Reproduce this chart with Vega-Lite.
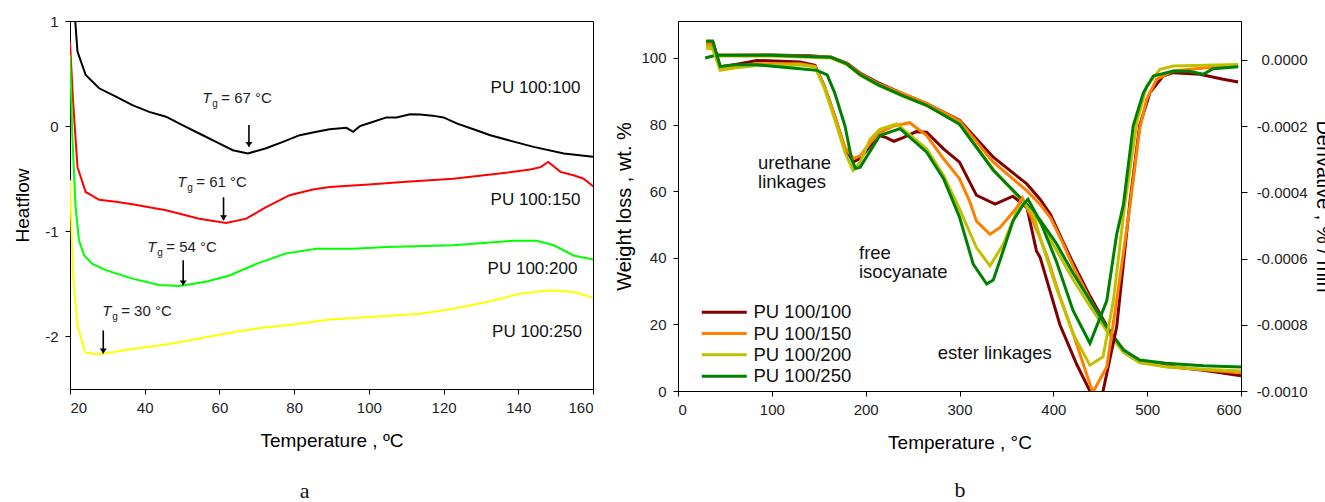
{
  "$schema": "https://vega.github.io/schema/vega-lite/v6.json",
  "padding": {"left": 13, "top": 13, "right": 0, "bottom": 0},
  "background": "white",
  "bounds": "flush",
  "spacing": 85,
  "config": {
    "view": {"stroke": "black", "strokeWidth": 1},
    "font": "Liberation Sans",
    "axis": {"grid": false, "domainColor": "black", "tickColor": "black", "tickSize": 5, "labelFont": "Liberation Sans", "labelFontSize": 15, "labelColor": "#222", "titleFont": "Liberation Sans", "titleFontSize": 19, "titleFontWeight": "normal", "titleColor": "#000"}
  },
  "resolve": {"scale": {"color": "independent"}, "legend": {"color": "independent"}},
  "datasets": {
    "dsc": [
      {"sample": "PU 100:100", "T": 21.3, "H": 1.05}, {"sample": "PU 100:100", "T": 22, "H": 0.71}, {"sample": "PU 100:100", "T": 24.2, "H": 0.486}, {"sample": "PU 100:100", "T": 27.8, "H": 0.36}, {"sample": "PU 100:100", "T": 32.3, "H": 0.28}, {"sample": "PU 100:100", "T": 36.7, "H": 0.2}, {"sample": "PU 100:100", "T": 41.2, "H": 0.136}, {"sample": "PU 100:100", "T": 45.7, "H": 0.09}, {"sample": "PU 100:100", "T": 50.1, "H": 0.01}, {"sample": "PU 100:100", "T": 54.6, "H": -0.07}, {"sample": "PU 100:100", "T": 59.1, "H": -0.15}, {"sample": "PU 100:100", "T": 63.6, "H": -0.229}, {"sample": "PU 100:100", "T": 67.6, "H": -0.26}, {"sample": "PU 100:100", "T": 72.5, "H": -0.21}, {"sample": "PU 100:100", "T": 77, "H": -0.15}, {"sample": "PU 100:100", "T": 81.5, "H": -0.086}, {"sample": "PU 100:100", "T": 86, "H": -0.054}, {"sample": "PU 100:100", "T": 89.5, "H": -0.03}, {"sample": "PU 100:100", "T": 94, "H": -0.016}, {"sample": "PU 100:100", "T": 95.8, "H": -0.054}, {"sample": "PU 100:100", "T": 97.6, "H": 0.0}, {"sample": "PU 100:100", "T": 101, "H": 0.04}, {"sample": "PU 100:100", "T": 104.7, "H": 0.083}, {"sample": "PU 100:100", "T": 107.4, "H": 0.083}, {"sample": "PU 100:100", "T": 111, "H": 0.114}, {"sample": "PU 100:100", "T": 113.7, "H": 0.11}, {"sample": "PU 100:100", "T": 117, "H": 0.1}, {"sample": "PU 100:100", "T": 120, "H": 0.083}, {"sample": "PU 100:100", "T": 123.5, "H": 0.026}, {"sample": "PU 100:100", "T": 128, "H": -0.03}, {"sample": "PU 100:100", "T": 132.5, "H": -0.086}, {"sample": "PU 100:100", "T": 138, "H": -0.14}, {"sample": "PU 100:100", "T": 144.1, "H": -0.197}, {"sample": "PU 100:100", "T": 152.2, "H": -0.26}, {"sample": "PU 100:100", "T": 160, "H": -0.29},
      {"sample": "PU 100:150", "T": 20, "H": 0.8}, {"sample": "PU 100:150", "T": 20.8, "H": 0.248}, {"sample": "PU 100:150", "T": 22, "H": -0.388}, {"sample": "PU 100:150", "T": 24.2, "H": -0.626}, {"sample": "PU 100:150", "T": 27.8, "H": -0.7}, {"sample": "PU 100:150", "T": 32.3, "H": -0.72}, {"sample": "PU 100:150", "T": 36.7, "H": -0.743}, {"sample": "PU 100:150", "T": 45.7, "H": -0.8}, {"sample": "PU 100:150", "T": 54.6, "H": -0.88}, {"sample": "PU 100:150", "T": 61.8, "H": -0.92}, {"sample": "PU 100:150", "T": 67.2, "H": -0.88}, {"sample": "PU 100:150", "T": 72.5, "H": -0.77}, {"sample": "PU 100:150", "T": 78.8, "H": -0.657}, {"sample": "PU 100:150", "T": 85, "H": -0.603}, {"sample": "PU 100:150", "T": 89.5, "H": -0.578}, {"sample": "PU 100:150", "T": 100, "H": -0.555}, {"sample": "PU 100:150", "T": 110, "H": -0.53}, {"sample": "PU 100:150", "T": 122.6, "H": -0.5}, {"sample": "PU 100:150", "T": 135, "H": -0.45}, {"sample": "PU 100:150", "T": 143.2, "H": -0.413}, {"sample": "PU 100:150", "T": 146, "H": -0.39}, {"sample": "PU 100:150", "T": 148, "H": -0.34}, {"sample": "PU 100:150", "T": 151.3, "H": -0.435}, {"sample": "PU 100:150", "T": 155, "H": -0.47}, {"sample": "PU 100:150", "T": 157.5, "H": -0.5}, {"sample": "PU 100:150", "T": 160.2, "H": -0.578},
      {"sample": "PU 100:200", "T": 20, "H": 0.676}, {"sample": "PU 100:200", "T": 20.6, "H": -0.07}, {"sample": "PU 100:200", "T": 21.5, "H": -0.77}, {"sample": "PU 100:200", "T": 22.4, "H": -1.086}, {"sample": "PU 100:200", "T": 23.8, "H": -1.23}, {"sample": "PU 100:200", "T": 26, "H": -1.31}, {"sample": "PU 100:200", "T": 29.6, "H": -1.37}, {"sample": "PU 100:200", "T": 36.7, "H": -1.45}, {"sample": "PU 100:200", "T": 43.9, "H": -1.51}, {"sample": "PU 100:200", "T": 49.3, "H": -1.52}, {"sample": "PU 100:200", "T": 56.4, "H": -1.48}, {"sample": "PU 100:200", "T": 62.7, "H": -1.42}, {"sample": "PU 100:200", "T": 69.9, "H": -1.31}, {"sample": "PU 100:200", "T": 77.9, "H": -1.21}, {"sample": "PU 100:200", "T": 86, "H": -1.166}, {"sample": "PU 100:200", "T": 95.8, "H": -1.166}, {"sample": "PU 100:200", "T": 104.7, "H": -1.15}, {"sample": "PU 100:200", "T": 122.6, "H": -1.133}, {"sample": "PU 100:200", "T": 138.7, "H": -1.09}, {"sample": "PU 100:200", "T": 145, "H": -1.09}, {"sample": "PU 100:200", "T": 149.5, "H": -1.133}, {"sample": "PU 100:200", "T": 154.8, "H": -1.23}, {"sample": "PU 100:200", "T": 160.2, "H": -1.27},
      {"sample": "PU 100:250", "T": 20, "H": -0.514}, {"sample": "PU 100:250", "T": 20.8, "H": -1.4}, {"sample": "PU 100:250", "T": 22, "H": -1.895}, {"sample": "PU 100:250", "T": 24, "H": -2.15}, {"sample": "PU 100:250", "T": 26.9, "H": -2.17}, {"sample": "PU 100:250", "T": 29.6, "H": -2.16}, {"sample": "PU 100:250", "T": 36.7, "H": -2.12}, {"sample": "PU 100:250", "T": 45.7, "H": -2.076}, {"sample": "PU 100:250", "T": 54.6, "H": -2.02}, {"sample": "PU 100:250", "T": 63.6, "H": -1.96}, {"sample": "PU 100:250", "T": 70.7, "H": -1.92}, {"sample": "PU 100:250", "T": 79.7, "H": -1.886}, {"sample": "PU 100:250", "T": 89.5, "H": -1.84}, {"sample": "PU 100:250", "T": 100.3, "H": -1.816}, {"sample": "PU 100:250", "T": 113.7, "H": -1.785}, {"sample": "PU 100:250", "T": 122.6, "H": -1.737}, {"sample": "PU 100:250", "T": 131.6, "H": -1.673}, {"sample": "PU 100:250", "T": 140.5, "H": -1.593}, {"sample": "PU 100:250", "T": 148.6, "H": -1.56}, {"sample": "PU 100:250", "T": 154.8, "H": -1.578}, {"sample": "PU 100:250", "T": 160.2, "H": -1.635}
    ],
    "dscLabels": [
      {"label": "PU 100:100", "T": 144.6, "H": 0.359},
      {"label": "PU 100:150", "T": 144.6, "H": -0.698},
      {"label": "PU 100:200", "T": 143.8, "H": -1.356},
      {"label": "PU 100:250", "T": 145, "H": -1.959}
    ],
    "tg": [
      {"T": 55.4, "H": 0.267, "rest": "=  67 °C"},
      {"T": 48.7, "H": -0.533, "rest": "=  61 °C"},
      {"T": 40.7, "H": -1.152, "rest": "=  54 °C"},
      {"T": 28.6, "H": -1.762, "rest": "=  30 °C"}
    ],
    "arrows": [
      {"T": 67.9, "H": 0.01, "H2": -0.197},
      {"T": 61.1, "H": -0.676, "H2": -0.895},
      {"T": 50.3, "H": -1.276, "H2": -1.514},
      {"T": 28.9, "H": -1.943, "H2": -2.162}
    ],
    "tga": [
      {"sample": "PU 100/100", "T": 30, "w": 104.5}, {"sample": "PU 100/100", "T": 36, "w": 104.3}, {"sample": "PU 100/100", "T": 42, "w": 100.8}, {"sample": "PU 100/100", "T": 60, "w": 100.8}, {"sample": "PU 100/100", "T": 100, "w": 100.9}, {"sample": "PU 100/100", "T": 140, "w": 100.7}, {"sample": "PU 100/100", "T": 163, "w": 100.2}, {"sample": "PU 100/100", "T": 180, "w": 98.5}, {"sample": "PU 100/100", "T": 194, "w": 95.5}, {"sample": "PU 100/100", "T": 213, "w": 92.6}, {"sample": "PU 100/100", "T": 240, "w": 89.2}, {"sample": "PU 100/100", "T": 265, "w": 86.3}, {"sample": "PU 100/100", "T": 300, "w": 81.3}, {"sample": "PU 100/100", "T": 336, "w": 70.2}, {"sample": "PU 100/100", "T": 372, "w": 62.1}, {"sample": "PU 100/100", "T": 386, "w": 57.5}, {"sample": "PU 100/100", "T": 397, "w": 53}, {"sample": "PU 100/100", "T": 410, "w": 45}, {"sample": "PU 100/100", "T": 421, "w": 38.5}, {"sample": "PU 100/100", "T": 439, "w": 28.5}, {"sample": "PU 100/100", "T": 457, "w": 19.5}, {"sample": "PU 100/100", "T": 470, "w": 13.5}, {"sample": "PU 100/100", "T": 480, "w": 11}, {"sample": "PU 100/100", "T": 492, "w": 9}, {"sample": "PU 100/100", "T": 520, "w": 7.5}, {"sample": "PU 100/100", "T": 560, "w": 6.2}, {"sample": "PU 100/100", "T": 600, "w": 4.6},
      {"sample": "PU 100/150", "T": 30, "w": 104}, {"sample": "PU 100/150", "T": 36, "w": 103.8}, {"sample": "PU 100/150", "T": 42, "w": 100.8}, {"sample": "PU 100/150", "T": 100, "w": 100.8}, {"sample": "PU 100/150", "T": 163, "w": 100.3}, {"sample": "PU 100/150", "T": 180, "w": 98.3}, {"sample": "PU 100/150", "T": 194, "w": 95.3}, {"sample": "PU 100/150", "T": 213, "w": 92.3}, {"sample": "PU 100/150", "T": 240, "w": 89.3}, {"sample": "PU 100/150", "T": 265, "w": 86.4}, {"sample": "PU 100/150", "T": 300, "w": 81.1}, {"sample": "PU 100/150", "T": 336, "w": 68.7}, {"sample": "PU 100/150", "T": 372, "w": 60.1}, {"sample": "PU 100/150", "T": 386, "w": 56}, {"sample": "PU 100/150", "T": 397, "w": 52}, {"sample": "PU 100/150", "T": 410, "w": 44.5}, {"sample": "PU 100/150", "T": 421, "w": 37.5}, {"sample": "PU 100/150", "T": 439, "w": 27.5}, {"sample": "PU 100/150", "T": 457, "w": 18.8}, {"sample": "PU 100/150", "T": 470, "w": 13.5}, {"sample": "PU 100/150", "T": 480, "w": 10.8}, {"sample": "PU 100/150", "T": 492, "w": 8.8}, {"sample": "PU 100/150", "T": 520, "w": 7.3}, {"sample": "PU 100/150", "T": 560, "w": 6.4}, {"sample": "PU 100/150", "T": 600, "w": 5.5},
      {"sample": "PU 100/200", "T": 30, "w": 103.5}, {"sample": "PU 100/200", "T": 36, "w": 103}, {"sample": "PU 100/200", "T": 42, "w": 100.6}, {"sample": "PU 100/200", "T": 100, "w": 100.6}, {"sample": "PU 100/200", "T": 163, "w": 100}, {"sample": "PU 100/200", "T": 180, "w": 98}, {"sample": "PU 100/200", "T": 194, "w": 94.8}, {"sample": "PU 100/200", "T": 213, "w": 91.8}, {"sample": "PU 100/200", "T": 240, "w": 88.5}, {"sample": "PU 100/200", "T": 265, "w": 85.7}, {"sample": "PU 100/200", "T": 300, "w": 80.3}, {"sample": "PU 100/200", "T": 336, "w": 66.5}, {"sample": "PU 100/200", "T": 372, "w": 55.5}, {"sample": "PU 100/200", "T": 386, "w": 50.5}, {"sample": "PU 100/200", "T": 403, "w": 42.5}, {"sample": "PU 100/200", "T": 421, "w": 33.5}, {"sample": "PU 100/200", "T": 439, "w": 25.5}, {"sample": "PU 100/200", "T": 457, "w": 18}, {"sample": "PU 100/200", "T": 475, "w": 11.5}, {"sample": "PU 100/200", "T": 492, "w": 8.5}, {"sample": "PU 100/200", "T": 520, "w": 7.3}, {"sample": "PU 100/200", "T": 560, "w": 6.5}, {"sample": "PU 100/200", "T": 600, "w": 6},
      {"sample": "PU 100/250", "T": 29, "w": 100}, {"sample": "PU 100/250", "T": 40, "w": 100.8}, {"sample": "PU 100/250", "T": 100, "w": 100.8}, {"sample": "PU 100/250", "T": 163, "w": 100.2}, {"sample": "PU 100/250", "T": 180, "w": 98.2}, {"sample": "PU 100/250", "T": 194, "w": 95}, {"sample": "PU 100/250", "T": 213, "w": 92}, {"sample": "PU 100/250", "T": 240, "w": 88.6}, {"sample": "PU 100/250", "T": 265, "w": 85.8}, {"sample": "PU 100/250", "T": 300, "w": 80.1}, {"sample": "PU 100/250", "T": 336, "w": 66.3}, {"sample": "PU 100/250", "T": 372, "w": 56}, {"sample": "PU 100/250", "T": 386, "w": 51.3}, {"sample": "PU 100/250", "T": 403, "w": 44.4}, {"sample": "PU 100/250", "T": 421, "w": 35.4}, {"sample": "PU 100/250", "T": 439, "w": 27.3}, {"sample": "PU 100/250", "T": 457, "w": 19.2}, {"sample": "PU 100/250", "T": 475, "w": 12.3}, {"sample": "PU 100/250", "T": 492, "w": 9.3}, {"sample": "PU 100/250", "T": 520, "w": 8.3}, {"sample": "PU 100/250", "T": 560, "w": 7.6}, {"sample": "PU 100/250", "T": 600, "w": 7.2}
    ],
    "dtg": [
      {"sample": "PU 100/100", "T": 30, "d": 0.000056}, {"sample": "PU 100/100", "T": 37, "d": 0.000056}, {"sample": "PU 100/100", "T": 45, "d": -0.000022}, {"sample": "PU 100/100", "T": 60, "d": -0.000015}, {"sample": "PU 100/100", "T": 84, "d": -0.000002}, {"sample": "PU 100/100", "T": 130, "d": -0.000007}, {"sample": "PU 100/100", "T": 146, "d": -0.000017}, {"sample": "PU 100/100", "T": 156, "d": -0.00008}, {"sample": "PU 100/100", "T": 167, "d": -0.00017}, {"sample": "PU 100/100", "T": 178, "d": -0.00027}, {"sample": "PU 100/100", "T": 187, "d": -0.000308}, {"sample": "PU 100/100", "T": 194, "d": -0.000298}, {"sample": "PU 100/100", "T": 205, "d": -0.000259}, {"sample": "PU 100/100", "T": 215, "d": -0.000229}, {"sample": "PU 100/100", "T": 222, "d": -0.000235}, {"sample": "PU 100/100", "T": 230, "d": -0.000246}, {"sample": "PU 100/100", "T": 240, "d": -0.000235}, {"sample": "PU 100/100", "T": 254, "d": -0.000217}, {"sample": "PU 100/100", "T": 265, "d": -0.000219}, {"sample": "PU 100/100", "T": 283, "d": -0.000269}, {"sample": "PU 100/100", "T": 300, "d": -0.000309}, {"sample": "PU 100/100", "T": 318, "d": -0.000409}, {"sample": "PU 100/100", "T": 338, "d": -0.000436}, {"sample": "PU 100/100", "T": 357, "d": -0.000412}, {"sample": "PU 100/100", "T": 372, "d": -0.000447}, {"sample": "PU 100/100", "T": 382, "d": -0.000577}, {"sample": "PU 100/100", "T": 386, "d": -0.000597}, {"sample": "PU 100/100", "T": 407, "d": -0.0008}, {"sample": "PU 100/100", "T": 425, "d": -0.00092}, {"sample": "PU 100/100", "T": 439, "d": -0.001}, {"sample": "PU 100/100", "T": 446, "d": -0.00106}, {"sample": "PU 100/100", "T": 453, "d": -0.001}, {"sample": "PU 100/100", "T": 467.5, "d": -0.000807}, {"sample": "PU 100/100", "T": 481.7, "d": -0.000427}, {"sample": "PU 100/100", "T": 492, "d": -0.000199}, {"sample": "PU 100/100", "T": 503, "d": -0.000099}, {"sample": "PU 100/100", "T": 517, "d": -0.000049}, {"sample": "PU 100/100", "T": 528, "d": -0.000039}, {"sample": "PU 100/100", "T": 556, "d": -0.000044}, {"sample": "PU 100/100", "T": 581, "d": -0.000059}, {"sample": "PU 100/100", "T": 597, "d": -0.000067},
      {"sample": "PU 100/150", "T": 30, "d": 0.00005}, {"sample": "PU 100/150", "T": 37, "d": 0.000048}, {"sample": "PU 100/150", "T": 45, "d": -0.000028}, {"sample": "PU 100/150", "T": 60, "d": -0.00002}, {"sample": "PU 100/150", "T": 84, "d": -0.000012}, {"sample": "PU 100/150", "T": 130, "d": -0.000012}, {"sample": "PU 100/150", "T": 146, "d": -0.00002}, {"sample": "PU 100/150", "T": 156, "d": -0.00008}, {"sample": "PU 100/150", "T": 167, "d": -0.00017}, {"sample": "PU 100/150", "T": 178, "d": -0.000265}, {"sample": "PU 100/150", "T": 187, "d": -0.000298}, {"sample": "PU 100/150", "T": 194, "d": -0.00029}, {"sample": "PU 100/150", "T": 205, "d": -0.00025}, {"sample": "PU 100/150", "T": 215, "d": -0.00022}, {"sample": "PU 100/150", "T": 230, "d": -0.0002}, {"sample": "PU 100/150", "T": 247, "d": -0.00019}, {"sample": "PU 100/150", "T": 265, "d": -0.000229}, {"sample": "PU 100/150", "T": 283, "d": -0.000299}, {"sample": "PU 100/150", "T": 300, "d": -0.000359}, {"sample": "PU 100/150", "T": 311, "d": -0.000429}, {"sample": "PU 100/150", "T": 318, "d": -0.000487}, {"sample": "PU 100/150", "T": 332.5, "d": -0.000527}, {"sample": "PU 100/150", "T": 343, "d": -0.000507}, {"sample": "PU 100/150", "T": 361, "d": -0.000447}, {"sample": "PU 100/150", "T": 367, "d": -0.000417}, {"sample": "PU 100/150", "T": 377, "d": -0.000477}, {"sample": "PU 100/150", "T": 386, "d": -0.00054}, {"sample": "PU 100/150", "T": 393, "d": -0.00059}, {"sample": "PU 100/150", "T": 407, "d": -0.000715}, {"sample": "PU 100/150", "T": 421, "d": -0.000826}, {"sample": "PU 100/150", "T": 442, "d": -0.001005}, {"sample": "PU 100/150", "T": 457, "d": -0.000927}, {"sample": "PU 100/150", "T": 467.5, "d": -0.000727}, {"sample": "PU 100/150", "T": 481.7, "d": -0.00044}, {"sample": "PU 100/150", "T": 492, "d": -0.000209}, {"sample": "PU 100/150", "T": 499.5, "d": -0.000119}, {"sample": "PU 100/150", "T": 510, "d": -0.000059}, {"sample": "PU 100/150", "T": 528, "d": -0.000034}, {"sample": "PU 100/150", "T": 563, "d": -0.000024}, {"sample": "PU 100/150", "T": 597, "d": -0.000017},
      {"sample": "PU 100/200", "T": 30, "d": 0.000035}, {"sample": "PU 100/200", "T": 37, "d": 0.000033}, {"sample": "PU 100/200", "T": 45, "d": -0.000032}, {"sample": "PU 100/200", "T": 60, "d": -0.000025}, {"sample": "PU 100/200", "T": 84, "d": -0.000017}, {"sample": "PU 100/200", "T": 130, "d": -0.000015}, {"sample": "PU 100/200", "T": 146, "d": -0.000022}, {"sample": "PU 100/200", "T": 156, "d": -0.000085}, {"sample": "PU 100/200", "T": 167, "d": -0.00018}, {"sample": "PU 100/200", "T": 178, "d": -0.00028}, {"sample": "PU 100/200", "T": 186.6, "d": -0.000334}, {"sample": "PU 100/200", "T": 194, "d": -0.00031}, {"sample": "PU 100/200", "T": 204.6, "d": -0.00024}, {"sample": "PU 100/200", "T": 215, "d": -0.00021}, {"sample": "PU 100/200", "T": 233, "d": -0.000194}, {"sample": "PU 100/200", "T": 265, "d": -0.000269}, {"sample": "PU 100/200", "T": 283, "d": -0.000349}, {"sample": "PU 100/200", "T": 300, "d": -0.00045}, {"sample": "PU 100/200", "T": 318, "d": -0.000567}, {"sample": "PU 100/200", "T": 332.5, "d": -0.000622}, {"sample": "PU 100/200", "T": 346.7, "d": -0.000557}, {"sample": "PU 100/200", "T": 361, "d": -0.000457}, {"sample": "PU 100/200", "T": 368, "d": -0.000432}, {"sample": "PU 100/200", "T": 378.6, "d": -0.000467}, {"sample": "PU 100/200", "T": 386, "d": -0.000537}, {"sample": "PU 100/200", "T": 403, "d": -0.000687}, {"sample": "PU 100/200", "T": 421, "d": -0.000827}, {"sample": "PU 100/200", "T": 439, "d": -0.000922}, {"sample": "PU 100/200", "T": 453, "d": -0.000897}, {"sample": "PU 100/200", "T": 464, "d": -0.000727}, {"sample": "PU 100/200", "T": 476, "d": -0.00044}, {"sample": "PU 100/200", "T": 489, "d": -0.000189}, {"sample": "PU 100/200", "T": 499.5, "d": -0.000079}, {"sample": "PU 100/200", "T": 513.7, "d": -0.000029}, {"sample": "PU 100/200", "T": 528, "d": -0.000019}, {"sample": "PU 100/200", "T": 597, "d": -0.000014},
      {"sample": "PU 100/250", "T": 30, "d": 0.000056}, {"sample": "PU 100/250", "T": 37, "d": 0.000056}, {"sample": "PU 100/250", "T": 45, "d": -0.00002}, {"sample": "PU 100/250", "T": 60, "d": -0.000015}, {"sample": "PU 100/250", "T": 84, "d": -0.000015}, {"sample": "PU 100/250", "T": 130, "d": -0.000027}, {"sample": "PU 100/250", "T": 148, "d": -0.000032}, {"sample": "PU 100/250", "T": 159, "d": -0.000046}, {"sample": "PU 100/250", "T": 167, "d": -0.0001}, {"sample": "PU 100/250", "T": 178, "d": -0.0002}, {"sample": "PU 100/250", "T": 185, "d": -0.0003}, {"sample": "PU 100/250", "T": 189, "d": -0.000328}, {"sample": "PU 100/250", "T": 194, "d": -0.000325}, {"sample": "PU 100/250", "T": 215, "d": -0.000229}, {"sample": "PU 100/250", "T": 236.6, "d": -0.000208}, {"sample": "PU 100/250", "T": 265, "d": -0.000279}, {"sample": "PU 100/250", "T": 283, "d": -0.000359}, {"sample": "PU 100/250", "T": 293, "d": -0.000427}, {"sample": "PU 100/250", "T": 300, "d": -0.000475}, {"sample": "PU 100/250", "T": 314.6, "d": -0.000617}, {"sample": "PU 100/250", "T": 329, "d": -0.000677}, {"sample": "PU 100/250", "T": 336, "d": -0.000665}, {"sample": "PU 100/250", "T": 343, "d": -0.000607}, {"sample": "PU 100/250", "T": 357, "d": -0.000487}, {"sample": "PU 100/250", "T": 368, "d": -0.000437}, {"sample": "PU 100/250", "T": 373, "d": -0.000421}, {"sample": "PU 100/250", "T": 386, "d": -0.000487}, {"sample": "PU 100/250", "T": 403, "d": -0.000607}, {"sample": "PU 100/250", "T": 421, "d": -0.000757}, {"sample": "PU 100/250", "T": 439, "d": -0.000856}, {"sample": "PU 100/250", "T": 457, "d": -0.000727}, {"sample": "PU 100/250", "T": 467.5, "d": -0.000527}, {"sample": "PU 100/250", "T": 474.6, "d": -0.000439}, {"sample": "PU 100/250", "T": 485.2, "d": -0.000199}, {"sample": "PU 100/250", "T": 496, "d": -0.000099}, {"sample": "PU 100/250", "T": 506.6, "d": -0.000049}, {"sample": "PU 100/250", "T": 528, "d": -0.000034}, {"sample": "PU 100/250", "T": 545, "d": -0.000035}, {"sample": "PU 100/250", "T": 559.6, "d": -0.000044}, {"sample": "PU 100/250", "T": 570.3, "d": -0.000027}, {"sample": "PU 100/250", "T": 597, "d": -0.000021}
    ],
    "tgaNotes": [
      {"note": "urethane", "T": 85.3, "w": 68.5},
      {"note": "linkages", "T": 85.3, "w": 62.8},
      {"note": "free", "T": 192.9, "w": 41.5},
      {"note": "isocyanate", "T": 192.9, "w": 35.8},
      {"note": "ester linkages", "T": 276.8, "w": 11.3}
    ]
  },
  "hconcat": [
    {
      "width": 523,
      "height": 368,
      "layer": [
        {
          "data": {"name": "dsc"},
          "mark": {"type": "line", "strokeWidth": 2, "clip": true},
          "encoding": {
            "x": {"field": "T", "type": "quantitative", "scale": {"domain": [20, 160], "nice": false, "zero": false},
              "axis": {"values": [20, 40, 60, 80, 100, 120, 140, 160], "title": "Temperature , ºC", "labelPadding": 6, "titlePadding": 16}},
            "y": {"field": "H", "type": "quantitative", "scale": {"domain": [-2.5, 1], "nice": false, "zero": false},
              "axis": {"values": [-2, -1, 0, 1], "title": "Heatflow", "labelPadding": 7, "titlePadding": 12, "labelExpr": "(datum.value < 0 ? '-' : '') + format(abs(datum.value), 'd')"}},
            "color": {"field": "sample", "type": "nominal", "scale": {"domain": ["PU 100:100", "PU 100:150", "PU 100:200", "PU 100:250"], "range": ["#000000", "#ff0000", "#00ff00", "#ffff00"]}, "legend": null}
          }
        },
        {
          "data": {"name": "dscLabels"},
          "mark": {"type": "text", "fontSize": 17, "font": "Liberation Sans", "color": "#111", "align": "center", "baseline": "middle"},
          "encoding": {"x": {"field": "T", "type": "quantitative"}, "y": {"field": "H", "type": "quantitative"}, "text": {"field": "label"}}
        },
        {
          "data": {"name": "tg"},
          "mark": {"type": "text", "fontSize": 15, "fontStyle": "italic", "font": "Liberation Sans", "color": "#222", "align": "left", "baseline": "middle"},
          "encoding": {"x": {"field": "T", "type": "quantitative"}, "y": {"field": "H", "type": "quantitative"}, "text": {"value": "T"}}
        },
        {
          "data": {"name": "tg"},
          "mark": {"type": "text", "fontSize": 10, "font": "Liberation Sans", "color": "#222", "align": "left", "baseline": "middle", "dx": 10, "dy": 6},
          "encoding": {"x": {"field": "T", "type": "quantitative"}, "y": {"field": "H", "type": "quantitative"}, "text": {"value": "g"}}
        },
        {
          "data": {"name": "tg"},
          "mark": {"type": "text", "fontSize": 15, "font": "Liberation Sans", "color": "#222", "align": "left", "baseline": "middle", "dx": 19},
          "encoding": {"x": {"field": "T", "type": "quantitative"}, "y": {"field": "H", "type": "quantitative"}, "text": {"field": "rest"}}
        },
        {
          "data": {"name": "arrows"},
          "mark": {"type": "rule", "color": "black", "strokeWidth": 1.6},
          "encoding": {"x": {"field": "T", "type": "quantitative"}, "y": {"field": "H", "type": "quantitative"}, "y2": {"field": "H2"}}
        },
        {
          "data": {"name": "arrows"},
          "mark": {"type": "point", "shape": "M-1,-1.4L1,-1.4L0,0Z", "size": 50, "filled": true, "color": "black", "opacity": 1},
          "encoding": {"x": {"field": "T", "type": "quantitative"}, "y": {"field": "H2", "type": "quantitative"}}
        },
        {
          "data": {"values": [{"T": 82.8, "H": -3.467, "t": "a"}]},
          "mark": {"type": "text", "fontSize": 22, "font": "Liberation Serif", "color": "#111", "align": "center", "baseline": "middle"},
          "encoding": {"x": {"field": "T", "type": "quantitative"}, "y": {"field": "H", "type": "quantitative"}, "text": {"field": "t"}}
        }
      ]
    },
    {
      "width": 563,
      "height": 370,
      "layer": [
        {
          "layer": [
            {
              "data": {"name": "tga"},
              "mark": {"type": "line", "strokeWidth": 3, "clip": true},
              "encoding": {
                "x": {"field": "T", "type": "quantitative", "scale": {"domain": [0, 600], "nice": false, "zero": false},
                  "axis": {"values": [0, 100, 200, 300, 400, 500, 600], "title": "Temperature , °C", "labelPadding": 6, "titlePadding": 16}},
                "y": {"field": "w", "type": "quantitative", "scale": {"domain": [0, 111.1], "nice": false, "zero": false},
                  "axis": {"orient": "left", "values": [0, 20, 40, 60, 80, 100], "title": "Weight loss , wt. %", "labelPadding": 7, "titlePadding": 6, "titleFontSize": 20}},
                "color": {"field": "sample", "type": "nominal",
                  "scale": {"domain": ["PU 100/100", "PU 100/150", "PU 100/200", "PU 100/250"], "range": ["#800000", "#ff8000", "#c0c000", "#008000"]},
                  "legend": {"orient": "none", "legendX": 22, "legendY": 282, "title": null, "symbolType": "M-3,0H3", "symbolSize": 225, "symbolOffset": 15, "symbolStrokeWidth": 3, "labelFontSize": 18.5, "labelFont": "Liberation Sans", "labelColor": "#111", "labelOffset": 20, "rowPadding": 2.3, "padding": 0}}
              }
            },
            {
              "data": {"name": "tgaNotes"},
              "mark": {"type": "text", "fontSize": 18.5, "font": "Liberation Sans", "color": "#111", "align": "left", "baseline": "middle"},
              "encoding": {"x": {"field": "T", "type": "quantitative"}, "y": {"field": "w", "type": "quantitative"}, "text": {"field": "note"}}
            },
            {
              "data": {"values": [{"T": 300.5, "w": -29.7, "t": "b"}]},
              "mark": {"type": "text", "fontSize": 22, "font": "Liberation Serif", "color": "#111", "align": "center", "baseline": "middle"},
              "encoding": {"x": {"field": "T", "type": "quantitative"}, "y": {"field": "w", "type": "quantitative"}, "text": {"field": "t"}}
            }
          ]
        },
        {
          "data": {"name": "dtg"},
          "mark": {"type": "line", "strokeWidth": 3, "clip": true},
          "encoding": {
            "x": {"field": "T", "type": "quantitative"},
            "y": {"field": "d", "type": "quantitative", "scale": {"domain": [-0.001, 0.000117], "nice": false, "zero": false},
              "axis": {"orient": "right", "values": [0, -0.0002, -0.0004, -0.0006, -0.0008, -0.001], "title": "Derivative , % / min", "titleFontSize": 20, "labelAlign": "right", "labelPadding": 60, "tickSize": 6, "titlePadding": 5,
                "labelExpr": "(datum.value < 0 ? '-' : '') + format(abs(datum.value), '.4f')"}},
            "color": {"field": "sample", "type": "nominal", "legend": null}
          }
        }
      ],
      "resolve": {"scale": {"y": "independent"}}
    }
  ]
}
